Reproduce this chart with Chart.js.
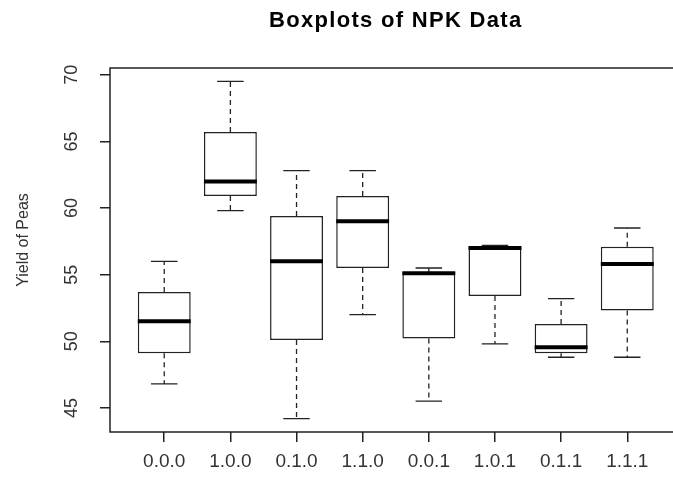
<!DOCTYPE html>
<html>
<head>
<meta charset="utf-8">
<script src="https://cdn.jsdelivr.net/npm/chart.js@4"></script>
<style>
  html, body { margin: 0; padding: 0; background: #fff; overflow: hidden; }
  #wrap { width: 690px; height: 483px; }
</style>
</head>
<body>
<div id="wrap"><canvas id="npkBoxplot"></canvas></div>
<script>
const groups = ["0.0.0", "1.0.0", "0.1.0", "1.1.0", "0.0.1", "1.0.1", "0.1.1", "1.1.1"];
const positions = [1, 2, 3, 4, 5, 6, 7, 8];
const lowWhisker = [46.8, 59.8, 44.2, 52.0, 45.5, 49.8, 48.8, 48.8];
const lowerQuartile = [49.1, 60.9, 50.1, 55.5, 50.2, 53.4, 49.1, 52.3];
const medians = [51.5, 62.0, 56.0, 59.0, 55.1, 57.0, 49.55, 55.8];
const upperQuartile = [53.7, 65.7, 59.4, 60.9, 55.2, 57.1, 51.3, 57.1];
const highWhisker = [56.0, 69.5, 62.8, 62.8, 55.5, 57.2, 53.2, 58.5];
const yTicks = [45, 50, 55, 60, 65, 70];

const lineColor = "#222";
const textColor = "#333";

// whiskers under the boxes, medians on top
const boxplotParts = {
  id: "boxplotParts",
  beforeDatasetsDraw(chart) {
    const { ctx } = chart;
    const y = chart.scales.y;
    const bars = chart.getDatasetMeta(0).data;
    ctx.save();
    ctx.strokeStyle = lineColor;
    ctx.lineWidth = 1.3;
    bars.forEach((bar, i) => {
      const cap = bar.width / 4;
      ctx.setLineDash([5, 4]);
      ctx.beginPath();
      ctx.moveTo(bar.x, y.getPixelForValue(upperQuartile[i]));
      ctx.lineTo(bar.x, y.getPixelForValue(highWhisker[i]));
      ctx.moveTo(bar.x, y.getPixelForValue(lowerQuartile[i]));
      ctx.lineTo(bar.x, y.getPixelForValue(lowWhisker[i]));
      ctx.stroke();
      ctx.setLineDash([]);
      ctx.beginPath();
      [highWhisker[i], lowWhisker[i]].forEach((v) => {
        const py = y.getPixelForValue(v);
        ctx.moveTo(bar.x - cap, py);
        ctx.lineTo(bar.x + cap, py);
      });
      ctx.stroke();
    });
    ctx.restore();
  },
  afterDatasetsDraw(chart) {
    const { ctx } = chart;
    const y = chart.scales.y;
    const bars = chart.getDatasetMeta(0).data;
    ctx.save();
    ctx.strokeStyle = "#000";
    ctx.lineWidth = 4;
    bars.forEach((bar, i) => {
      const py = y.getPixelForValue(medians[i]);
      ctx.beginPath();
      ctx.moveTo(bar.x - bar.width / 2, py);
      ctx.lineTo(bar.x + bar.width / 2, py);
      ctx.stroke();
    });
    ctx.restore();
  },
  afterDraw(chart) {
    const { ctx, chartArea } = chart;
    const y = chart.scales.y;
    ctx.save();
    // frame (right side falls outside the visible window)
    ctx.strokeStyle = lineColor;
    ctx.lineWidth = 1.5;
    ctx.beginPath();
    ctx.moveTo(chartArea.right, chartArea.top);
    ctx.lineTo(chartArea.left, chartArea.top);
    ctx.lineTo(chartArea.left, chartArea.bottom);
    ctx.lineTo(chartArea.right, chartArea.bottom);
    ctx.stroke();

    // rotated y tick labels
    ctx.fillStyle = textColor;
    ctx.font = "18px 'Liberation Sans', Arial, sans-serif";
    ctx.textAlign = "center";
    ctx.textBaseline = "middle";
    yTicks.forEach((v) => {
      ctx.save();
      ctx.translate(chartArea.left - 38, y.getPixelForValue(v));
      ctx.rotate(-Math.PI / 2);
      ctx.fillText(String(v), 0, 0);
      ctx.restore();
    });

    // y axis title
    ctx.save();
    ctx.font = "16px 'Liberation Sans', Arial, sans-serif";
    ctx.translate(chartArea.left - 86, (chartArea.top + chartArea.bottom) / 2 - 10);
    ctx.rotate(-Math.PI / 2);
    ctx.fillText("Yield of Peas", 0, 0);
    ctx.restore();

    // main title
    ctx.fillStyle = "#000";
    ctx.font = "bold 22px 'Liberation Sans', Arial, sans-serif";
    ctx.letterSpacing = "1.3px";
    ctx.textBaseline = "alphabetic";
    ctx.fillText("Boxplots of NPK Data", (chartArea.left + chartArea.right) / 2, 27);
    ctx.restore();
  },
};

new Chart(document.getElementById("npkBoxplot"), {
  type: "bar",
  data: {
    datasets: [
      {
        data: positions.map((p, i) => ({ x: p, y: [lowerQuartile[i], upperQuartile[i]] })),
        backgroundColor: "#fff",
        borderColor: lineColor,
        borderWidth: 1.5,
        borderSkipped: false,
        barPercentage: 0.8,
        categoryPercentage: 1.0,
      },
    ],
  },
  options: {
    responsive: true,
    maintainAspectRatio: false,
    devicePixelRatio: 1,
    animation: false,
    layout: { padding: { top: 68, right: 8.5, left: 0, bottom: 0 } },
    plugins: { legend: { display: false }, tooltip: { enabled: false }, title: { display: false } },
    scales: {
      x: {
        type: "linear",
        offset: false,
        min: 0.18,
        max: 8.82,
        afterBuildTicks: (s) => { s.ticks = positions.map((v) => ({ value: v })); },
        afterFit: (s) => { s.height = 51; },
        ticks: {
          callback: (v, i) => groups[i],
          autoSkip: false,
          maxRotation: 0,
          color: textColor,
          padding: 8,
          font: { family: "'Liberation Sans', Arial, sans-serif", size: 19 },
        },
        grid: { offset: false, drawOnChartArea: false, drawTicks: true, tickLength: 10, color: lineColor, lineWidth: 1.5 },
        border: { display: false },
      },
      y: {
        min: 43.19,
        max: 70.51,
        afterBuildTicks: (s) => { s.ticks = yTicks.map((v) => ({ value: v })); },
        afterFit: (s) => { s.width = 110; },
        ticks: { display: false },
        grid: { drawOnChartArea: false, drawTicks: true, tickLength: 10, color: lineColor, lineWidth: 1.5 },
        border: { display: false },
      },
    },
  },
  plugins: [boxplotParts],
});
</script>
</body>
</html>
